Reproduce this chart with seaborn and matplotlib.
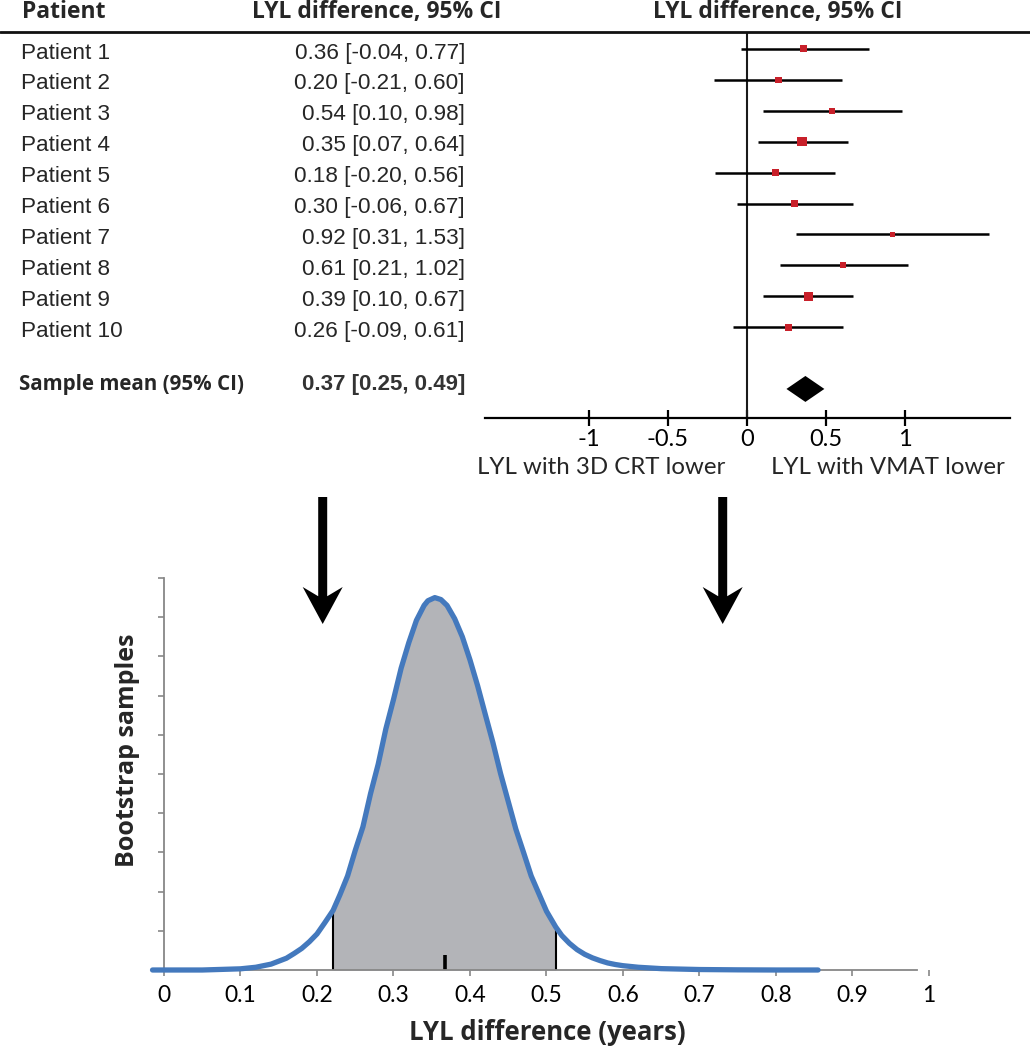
import numpy as np
import pandas as pd
import matplotlib
matplotlib.use("Agg")
import matplotlib.pyplot as plt
import seaborn as sns
from matplotlib.patches import FancyArrow
from matplotlib.lines import Line2D

# ---------------- data ----------------
patients = ["Patient 1", "Patient 2", "Patient 3", "Patient 4", "Patient 5",
            "Patient 6", "Patient 7", "Patient 8", "Patient 9", "Patient 10"]
lyl_diff = [0.36, 0.20, 0.54, 0.35, 0.18, 0.30, 0.92, 0.61, 0.39, 0.26]
ci_low = [-0.04, -0.21, 0.10, 0.07, -0.20, -0.06, 0.31, 0.21, 0.10, -0.09]
ci_high = [0.77, 0.60, 0.98, 0.64, 0.56, 0.67, 1.53, 1.02, 0.67, 0.61]
weight = [7.0, 6.3, 5.6, 9.5, 7.0, 6.7, 5.0, 6.3, 9.2, 7.0]   # square side (relative weight)

mean_label = "Sample mean (95% CI)"
sample_mean = 0.37
sample_ci = [0.25, 0.49]

forest_ticks = [-1, -0.5, 0, 0.5, 1]
forest_ticklabels = ["-1", "-0.5", "0", "0.5", "1"]

boot_x = [-0.015, 0.0, 0.05, 0.10, 0.12, 0.14, 0.16, 0.17, 0.18, 0.19, 0.20, 0.21,
          0.221, 0.23, 0.24, 0.25, 0.26, 0.27, 0.28, 0.29, 0.30, 0.31, 0.32, 0.33,
          0.34, 0.345, 0.354, 0.362, 0.37, 0.38, 0.39, 0.40, 0.41, 0.42, 0.43, 0.44,
          0.45, 0.46, 0.47, 0.48, 0.49, 0.50, 0.512, 0.52, 0.53, 0.54, 0.55, 0.56,
          0.57, 0.58, 0.59, 0.60, 0.62, 0.65, 0.70, 0.75, 0.80, 0.855]
boot_y = [0.0, 0.0, 0.0, 0.03, 0.07, 0.15, 0.30, 0.42, 0.55, 0.72, 0.92, 1.20,
          1.52, 1.92, 2.40, 3.05, 3.65, 4.50, 5.25, 6.15, 6.90, 7.70, 8.35, 8.92,
          9.30, 9.42, 9.50, 9.45, 9.30, 8.96, 8.50, 7.91, 7.25, 6.52, 5.80, 5.01,
          4.30, 3.59, 3.00, 2.40, 1.95, 1.50, 1.10, 0.88, 0.68, 0.52, 0.40, 0.31,
          0.24, 0.18, 0.14, 0.11, 0.07, 0.035, 0.012, 0.004, 0.0, 0.0]
boot_ci = [0.221, 0.512]
boot_mean = 0.367

boot_ticks = [0, 0.1, 0.2, 0.3, 0.4, 0.5, 0.6, 0.7, 0.8, 0.9, 1]
boot_ticklabels = ["0", "0.1", "0.2", "0.3", "0.4", "0.5", "0.6", "0.7", "0.8", "0.9", "1"]

# ---------------- style ----------------
sns.set_theme(style="white")
plt.rcParams['font.family'] = ['Lato', 'DejaVu Sans']
BOLD_FAM = ['Open Sans', 'DejaVu Sans']

W, H = 1030, 1050
fig = plt.figure(figsize=(W / 100, H / 100), dpi=100)
fig.patch.set_facecolor("white")


def fx(px):
    return px / W


def fy(py):
    return 1 - py / H


RED = "#c8202a"
BLUE = "#4479bd"
GRAY_FILL = "#b3b4b8"
AX_GRAY = "#878787"

ylim_rows = (11.94, -0.55)

# table (text) axes spanning the full width, same row coordinates
ax_t = fig.add_axes([0, fy(418), 1, fy(32) - fy(418)])
ax_t.set_xlim(0, W)
ax_t.set_ylim(*ylim_rows)
ax_t.axis("off")

# forest axes
ax_f = fig.add_axes([fx(485), fy(418), fx(1010) - fx(485), fy(32) - fy(418)])
ax_f.patch.set_alpha(0)

df = pd.DataFrame({"patient": patients, "est": lyl_diff, "lo": ci_low, "hi": ci_high,
                   "w": weight})
df["row"] = np.arange(len(df))
df["area"] = df["w"] ** 2

ax_f.axvline(0, color="#1a1a1a", lw=1.5, zorder=1)
ax_f.hlines(df["row"], df["lo"], df["hi"], color="black", lw=1.8, zorder=2)
amin, amax = df["area"].min(), df["area"].max()
sns.scatterplot(data=df, x="est", y="row", size="area",
                sizes=(amin * 0.5184, amax * 0.5184), size_norm=(amin, amax),
                marker="s", color=RED, linewidth=0, legend=False, ax=ax_f, zorder=3)

mean_row = 11
dh = 0.42
ax_f.fill([sample_ci[0], sample_mean, sample_ci[1], sample_mean],
          [mean_row, mean_row - dh, mean_row, mean_row + dh], color="black", lw=0, zorder=3)

ax_f.set_xlim(-1.658, 1.665)
ax_f.set_ylim(*ylim_rows)
ax_f.set_yticks([])
ax_f.set_xticks(forest_ticks)
ax_f.set_xticklabels(forest_ticklabels)
ax_f.set_xlabel("")
ax_f.set_ylabel("")
for s in ["top", "right", "left"]:
    ax_f.spines[s].set_visible(False)
ax_f.spines["bottom"].set_color("black")
ax_f.spines["bottom"].set_linewidth(1.6)
ax_f.tick_params(axis="x", direction="inout", length=12, width=1.6, color="black",
                 labelsize=17, pad=2, labelcolor="black", bottom=True)

# header line
fig.add_artist(Line2D([0, 1], [fy(32), fy(32)], transform=fig.transFigure,
                      color="#111111", lw=2.0))

# headers
hdr = dict(fontsize=16.5, fontweight="bold", family=BOLD_FAM, ha="left", va="center")
ax_t.text(22, -1.2, "Patient", **hdr)
ax_t.text(252, -1.2, "LYL difference, 95% CI", **hdr)
ax_t.text(653, -1.2, "LYL difference, 95% CI", **hdr)

for i, row in df.iterrows():
    ax_t.text(21, row["row"] + 0.13, row["patient"], fontsize=16.2, family="Liberation Sans",
              ha="left", va="center")
    ax_t.text(465, row["row"] + 0.13, f"{row['est']:.2f} [{row['lo']:.2f}, {row['hi']:.2f}]",
              fontsize=16.2, family="Liberation Sans", ha="right", va="center")

ax_t.text(19, mean_row - 0.15, mean_label, fontsize=14.8, fontweight="bold",
          family=BOLD_FAM, ha="left", va="center")
ax_t.text(465, mean_row - 0.15, f"{sample_mean:.2f} [{sample_ci[0]:.2f}, {sample_ci[1]:.2f}]",
          fontsize=16, fontweight="bold", family="Liberation Sans", color="#333333",
          ha="right", va="center")

fig.text(fx(601), fy(468), "LYL with 3D CRT lower", fontsize=17.3, ha="center", va="center")
fig.text(fx(888), fy(468), "LYL with VMAT lower", fontsize=17.3, ha="center", va="center")

# arrows
for ax_px in [322.7, 722.7]:
    fig.add_artist(FancyArrow(ax_px / 100, (H - 497) / 100, 0, -(624 - 497) / 100,
                              width=0.09, head_width=0.40, head_length=0.37,
                              length_includes_head=True, overhang=0.25,
                              color="black", lw=0, transform=fig.dpi_scale_trans))

# ---------------- bootstrap distribution ----------------
ax_b = fig.add_axes([fx(148.7), fy(970), fx(932.8) - fx(148.7), fy(578) - fy(970)])
ax_b.patch.set_alpha(0)
bx = np.array(boot_x)
by = np.array(boot_y)
inside = (bx >= boot_ci[0]) & (bx <= boot_ci[1])
ax_b.fill_between(bx, 0, by, where=inside, color=GRAY_FILL, lw=0, zorder=1)
h_lo = by[np.where(bx == boot_ci[0])[0][0]]
h_hi = by[np.where(bx == boot_ci[1])[0][0]]
ax_b.vlines(boot_ci, 0, [h_lo, h_hi], color="black", lw=1.5, zorder=2)
ax_b.vlines([boot_mean], 0, 0.38, color="black", lw=2.6, zorder=2)
sns.lineplot(x=bx, y=by, color=BLUE, lw=3.8, ax=ax_b, errorbar=None, zorder=4,
             clip_on=False, solid_capstyle="round", solid_joinstyle="round")

ax_b.set_xlim(-0.02, 1.005)
ax_b.set_ylim(0, 10)
ax_b.set_xticks(boot_ticks)
ax_b.set_xticklabels(boot_ticklabels)
ax_b.set_yticks(range(0, 11))
ax_b.set_yticklabels([])
ax_b.set_xlabel("")
ax_b.set_ylabel("")
for s in ["top", "right"]:
    ax_b.spines[s].set_visible(False)
for s in ["left", "bottom"]:
    ax_b.spines[s].set_color(AX_GRAY)
    ax_b.spines[s].set_linewidth(1.3)
ax_b.spines["left"].set_position(("data", 0))
ax_b.spines["bottom"].set_bounds(0, 0.984)
ax_b.tick_params(axis="both", direction="out", length=4.5, width=1.2, color=AX_GRAY,
                 labelsize=16.5, labelcolor="black", bottom=True, left=True)
ax_b.tick_params(axis="x", pad=6)

fig.text(fx(128), fy(750), "Bootstrap samples", fontsize=18, fontweight="bold",
         family=BOLD_FAM, rotation=90, ha="center", va="center")
fig.text(fx(547), fy(1032), "LYL difference (years)", fontsize=18.5, fontweight="bold",
         family=BOLD_FAM, ha="center", va="center")

fig.savefig("out.png", dpi=100, facecolor="white")
